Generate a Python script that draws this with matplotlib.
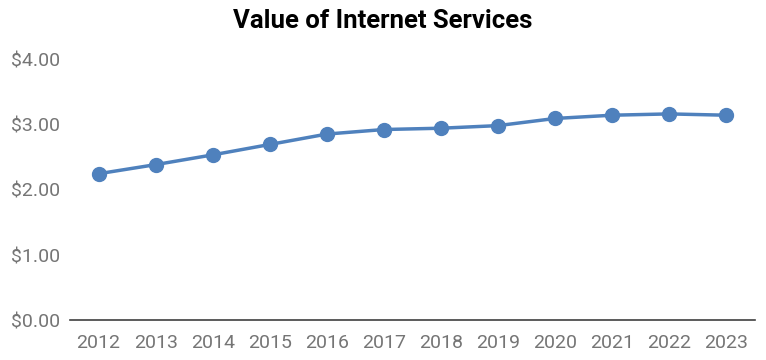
import matplotlib.pyplot as plt
from matplotlib.ticker import FuncFormatter

plt.rcParams['font.family'] = ['Roboto', 'DejaVu Sans']

# Datos
years = ['2012', '2013', '2014', '2015', '2016', '2017',
         '2018', '2019', '2020', '2021', '2022', '2023']
values = [2.25, 2.39, 2.54, 2.70, 2.86, 2.93, 2.95, 2.99, 3.10, 3.15, 3.17, 3.15]

fig = plt.figure(figsize=(7.66, 3.6), dpi=100)
ax = fig.add_axes([0.0914, 0.111, 0.894, 0.7225])

ax.plot(range(len(years)), values, color='#4F81BD', linewidth=2.5,
        marker='o', markersize=10, solid_capstyle='round')

ax.set_xlim(-0.5, len(years) - 0.5)
ax.set_ylim(0, 4)
ax.set_yticks([0, 1, 2, 3, 4])
ax.yaxis.set_major_formatter(FuncFormatter(lambda v, p: f'${v:.2f}'))
ax.set_xticks(range(len(years)))
ax.set_xticklabels(years)

for s in ['top', 'right', 'left']:
    ax.spines[s].set_visible(False)
ax.spines['bottom'].set_color('#404040')
ax.spines['bottom'].set_linewidth(1.2)

ax.tick_params(axis='both', length=0, labelsize=14, labelcolor='#757575')
ax.tick_params(axis='y', pad=7)
ax.tick_params(axis='x', pad=10)

fig.suptitle('Value of Internet Services', fontsize=18.5, fontweight='bold',
             y=0.975)

fig.savefig('out.png', dpi=100)
plt.close()
